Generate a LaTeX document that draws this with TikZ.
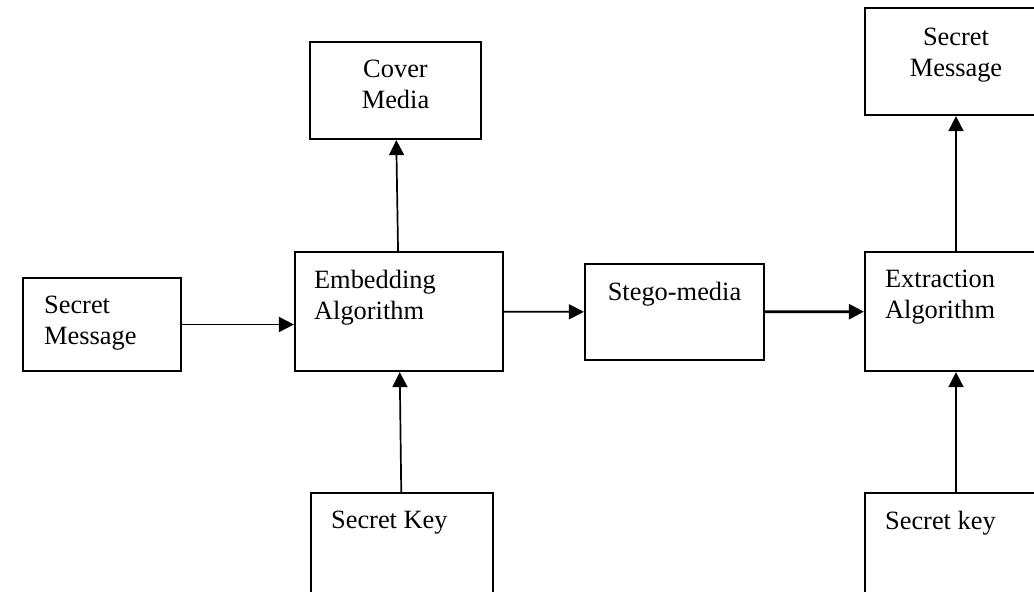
\documentclass[tikz,border=0pt]{standalone}
\usepackage{fontspec}
\setmainfont{Liberation Serif}
\usetikzlibrary{arrows.meta, positioning}
\tikzstyle{block} = [rectangle, draw=black, line width=2.2pt, inner sep=0pt]
\tikzstyle{words} = [inner sep=0pt, font=\fontsize{26.4}{31}\selectfont]
\tikzstyle{arrow} = [line width=1.7pt, -{Triangle[length=15pt, width=15pt]}]

\begin{document}
\begin{tikzpicture}[x=1pt, y=-1pt, label distance=0pt]

\path[use as bounding box, clip] (0,0) rectangle (1034,592);

\node (msg) [block, minimum width=158pt, minimum height=93pt,
  label={[words, align=left, anchor=north west, xshift=22pt, yshift=-19pt]north west:Secret\\Message}] at (102,324.5) {};
\node (embed) [block, minimum width=208pt, minimum height=119pt,
  label={[words, align=left, anchor=north west, xshift=20pt, yshift=-19pt]north west:Embedding\\Algorithm}] at (399,311.5) {};
\node (cover) [block, minimum width=171pt, minimum height=97pt,
  label={[words, align=center, anchor=north, yshift=-19pt]north:Cover\\Media}] at (395.5,90.5) {};
\node (stego) [block, minimum width=179pt, minimum height=96pt,
  label={[words, anchor=north, yshift=-19pt]north:Stego-media}] at (674.5,312) {};
\node (extract) [block, minimum width=182pt, minimum height=119pt,
  label={[words, align=left, anchor=north west, xshift=21pt, yshift=-19pt]north west:Extraction\\Algorithm}] at (956,311.5) {};
\node (out) [block, minimum width=182pt, minimum height=107pt,
  label={[words, align=center, anchor=north, yshift=-21pt]north:Secret\\Message}] at (956,61.5) {};
\node (key) [block, minimum width=182pt, minimum height=119pt,
  label={[words, anchor=north west, xshift=21pt, yshift=-19pt]north west:Secret Key}] at (402,552.5) {};
\node (key2) [block, minimum width=182pt, minimum height=119pt,
  label={[words, anchor=north west, xshift=21pt, yshift=-19pt]north west:Secret key}] at (956,552.5) {};

\draw [arrow] (msg) -- (msg -| embed.west);
\draw [arrow] (embed) -- (cover);
\draw [arrow] (key) -- (embed);
\draw [arrow] (embed) -- (stego);
\draw [arrow, line width=2.8pt] (stego) -- (extract);
\draw [arrow] (extract) -- (out);
\draw [arrow] (key2) -- (extract);

\end{tikzpicture}
\end{document}
